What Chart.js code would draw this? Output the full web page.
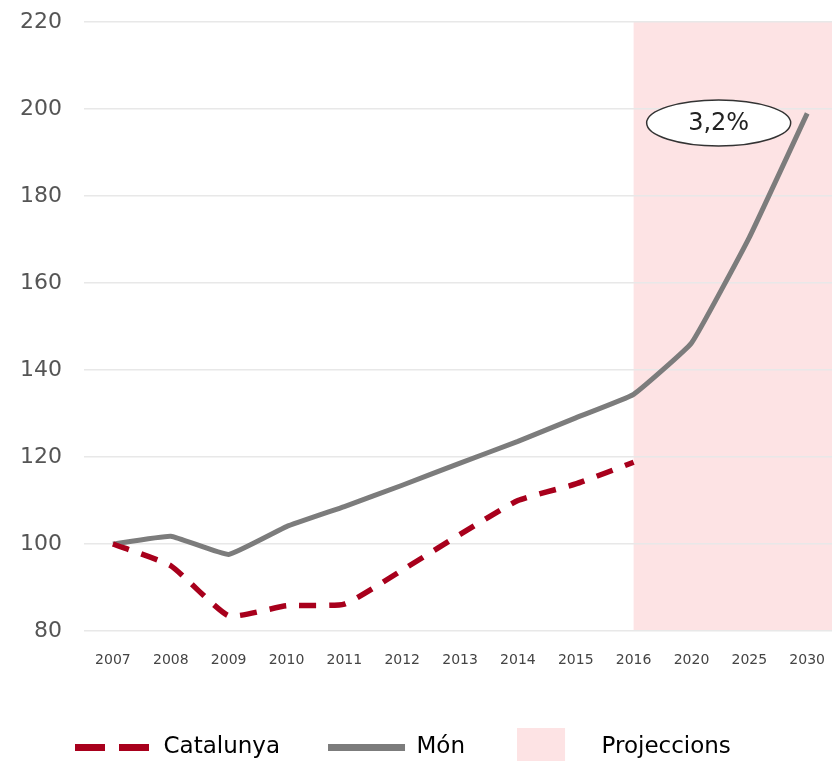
<!DOCTYPE html>
<html>
<head>
<meta charset="utf-8">
<script src="https://cdn.jsdelivr.net/npm/chart.js@4.4.1/dist/chart.umd.min.js"></script>
<style>
  html, body { margin: 0; padding: 0; background: #fff; overflow: hidden; }
  #wrap { width: 838px; height: 769px; }
</style>
</head>
<body>
<div id="wrap"><canvas id="grafic"></canvas></div>
<script>
// anys i valors (index 2007 = 100)
const anys = ['2007', '2008', '2009', '2010', '2011', '2012', '2013', '2014', '2015', '2016', '2020', '2025', '2030']
const catalunya = [100, 95, 83.5, 85.8, 86.2, 94, 102.2, 110, 113.8, 118.8, null, null, null]
const mon = [100, 101.8, 97.6, 104, 108.6, 113.5, 118.6, 123.6, 129, 134.4, 146.2, 170.5, 199]
const yTicks = [80, 100, 120, 140, 160, 180, 200, 220]
const etiqueta = '3,2%'
const inici_projeccio = '2016'

const fontBase = "'DejaVu Sans', sans-serif"
const rosa = '#fde3e4'

// caixeta rosa per a la llegenda (la part dreta transparent la desplaça a l'esquerra)
const caixa = document.createElement('canvas')
caixa.width = 69
caixa.height = 40
const cx = caixa.getContext('2d')
cx.fillStyle = rosa
cx.fillRect(0, 0, 48, 40)

// zona de projeccions (darrere de la graella)
const projeccions = {
  id: 'projeccions',
  beforeDraw(chart) {
    const { ctx, chartArea, scales } = chart
    const x0 = scales.x.getPixelForValue(anys.indexOf(inici_projeccio))
    const yTop = scales.y.getPixelForValue(yTicks[yTicks.length - 1])
    const yBot = scales.y.getPixelForValue(yTicks[0])
    ctx.save()
    ctx.fillStyle = rosa
    ctx.fillRect(x0, yTop, chartArea.right - x0, yBot - yTop)
    ctx.restore()
  }
}

// la llegenda comença una mica més a la dreta
const moureLlegenda = {
  id: 'moureLlegenda',
  afterLayout(chart) {
    chart.legend.left = 27
  }
}

// el globus amb el creixement
const globus = {
  id: 'globus',
  afterDatasetsDraw(chart) {
    const { ctx, scales } = chart
    const x = scales.x.getPixelForValue(10.47)
    const y = scales.y.getPixelForValue(196.8)
    ctx.save()
    ctx.beginPath()
    ctx.ellipse(x, y, 72, 23, 0, 0, Math.PI * 2)
    ctx.fillStyle = '#ffffff'
    ctx.fill()
    ctx.lineWidth = 1.5
    ctx.strokeStyle = '#333'
    ctx.stroke()
    ctx.fillStyle = '#222'
    ctx.font = "24px 'DejaVu Sans', sans-serif"
    ctx.textAlign = 'center'
    ctx.textBaseline = 'middle'
    ctx.fillText(etiqueta, x, y + 1)
    ctx.restore()
  }
}

const data = {
  labels: anys,
  datasets: [
    {
      label: 'Catalunya',
      data: catalunya,
      borderColor: '#a8001c',
      backgroundColor: '#a8001c',
      borderWidth: 5.5,
      borderDash: [17, 13],
      pointRadius: 0,
      tension: 0.15,
      spanGaps: false
    },
    {
      label: 'Món',
      data: mon,
      borderColor: '#7c7c7c',
      backgroundColor: '#7c7c7c',
      borderWidth: 5,
      pointRadius: 0,
      tension: 0.1
    }
  ]
}

const config = {
  type: 'line',
  data: data,
  plugins: [projeccions, moureLlegenda, globus],
  options: {
    responsive: true,
    maintainAspectRatio: false,
    animation: false,
    layout: { padding: { left: 0, right: 0, top: 22, bottom: 0 } },
    plugins: {
      tooltip: { enabled: false },
      legend: {
        position: 'bottom',
        align: 'start',
        labels: {
          usePointStyle: true,
          pointStyleWidth: 77,
          padding: 48,
          color: '#444',
          font: { family: fontBase, size: 23 },
          generateLabels(chart) {
            const items = chart.data.datasets.map((ds, i) => ({
              text: ds.label,
              fillStyle: ds.borderColor,
              strokeStyle: ds.borderColor,
              lineWidth: 7,
              lineDash: ds.borderDash ? [30, 14] : [],
              pointStyle: 'line',
              datasetIndex: i
            }))
            items.push({
              text: 'Projeccions',
              fillStyle: rosa,
              strokeStyle: rosa,
              lineWidth: 0,
              pointStyle: caixa
            })
            return items
          }
        }
      }
    },
    scales: {
      x: {
        offset: true,
        grid: { display: false },
        border: { display: false },
        afterFit(axis) {
          axis.height = 57
        },
        ticks: {
          color: '#444',
          font: { family: fontBase, size: 14 },
          padding: 13,
          maxRotation: 0,
          autoSkip: false
        }
      },
      y: {
        min: 80,
        max: 220,
        grid: { color: '#e8e8e8', lineWidth: 1.5, drawTicks: false },
        border: { display: false },
        afterBuildTicks(axis) {
          axis.ticks = yTicks.map(v => ({ value: v }))
        },
        afterFit(axis) {
          axis.width = 84
          axis.paddingTop = 0
        },
        ticks: {
          color: '#555',
          font: { family: fontBase, size: 22 },
          padding: 22
        }
      }
    }
  }
}

const myChart = new Chart(document.getElementById('grafic'), config)
</script>
</body>
</html>
